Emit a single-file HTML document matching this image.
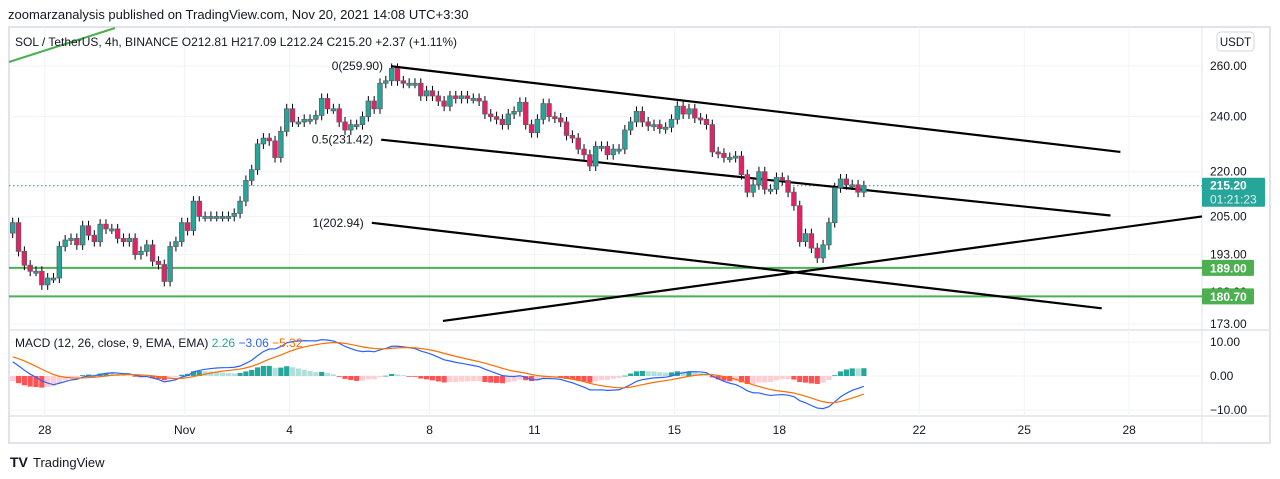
<!DOCTYPE html>
<html><head><meta charset="utf-8">
<style>
html,body{margin:0;padding:0;background:#fff;width:1280px;height:479px;overflow:hidden;font-family:"Liberation Sans",sans-serif;}
svg text{font-family:"Liberation Sans",sans-serif;}
</style></head>
<body>
<svg id="chart" width="1280" height="479" viewBox="0 0 1280 479" xmlns="http://www.w3.org/2000/svg">
  <text x="8" y="19" font-size="13" fill="#131722">zoomarzanalysis published on TradingView.com, Nov 20, 2021 14:08 UTC+3:30</text>
  <rect x="9" y="27" width="1261" height="416" fill="none" stroke="#e0e3eb" stroke-width="2"/>
  <line x1="1202" y1="27" x2="1202" y2="443" stroke="#e0e3eb"/>
  <line x1="9" y1="330" x2="1270" y2="330" stroke="#e0e3eb" stroke-width="1.5"/>
  <line x1="9" y1="416" x2="1270" y2="416" stroke="#e0e3eb" stroke-width="1.5"/>
  <g id="grid"></g>
  <g id="drawings"></g>
  <g id="candles"></g>
  <g id="macd"></g>
  <g id="axes"></g>
  <text x="15" y="46" font-size="12" fill="#131722">SOL / TetherUS, 4h, BINANCE  O212.81  H217.09  L212.24  C215.20  +2.37 (+1.11%)</text>
  <text x="15" y="347" font-size="12" fill="#131722">MACD (12, 26, close, 9, EMA, EMA) <tspan fill="#26a69a">2.26</tspan> <tspan fill="#2962ff">−3.06</tspan> <tspan fill="#ff6d00">−5.32</tspan></text>
  <rect x="1217" y="32" width="37" height="19" rx="4" fill="#fff" stroke="#d1d4dc"/>
  <text x="1235.5" y="46" font-size="11.5" fill="#131722" text-anchor="middle">USDT</text>
  <g>
    <text x="10" y="467" font-size="14" font-weight="bold" fill="#131722">TV</text>
    <text x="33" y="467" font-size="13" fill="#131722">TradingView</text>
  </g>
</svg>
<script>
// ---- data ----
const closes = [203,194,189.8,188,188,184,186,186,195.5,197.5,198,196,202,199,197,202.5,201,201,198,197,198,193,194,196,191,190,185,195.5,197,203,200.5,210,205,205,205,205,205,205,206,210,217,220.7,229.9,232,231,225,234.5,243,238,238,239,239,240.5,247,243,243,238,235,237,237,240,246,243,253,254,259,254,253,253,253,248,250,248,246,244,248,247,248,247,247,246,241,240,239,237,241,242,245.5,237,234,239,245,240,239.5,238,233,232,228,226,222,229,229,226,228,228,235,238,242,238,236.5,237,235.5,236,239,244,241,243,239.5,239,237,227,226.5,225,225,225.5,219,213,215.5,220,214,214,218,217,213,208.5,197,199.5,195,192,196,203,214.5,217.5,215.5,215.5,213,215.2];
const firstOpen = 199.7;
const dateLabels = ["28","Nov","4","8","11","15","18","22","25","28"];
const dateIndex = [5.5,29.5,47.5,71.5,89.5,113.5,131.5,155.5,173.5,191.5];
const priceTicks = [260,240,220,205,193,182,173];
const macdTicks = [10,0,-10];
// drawings: [candleIndex, price]
const channelTop = [[64.9,259.9],[190,227]];
const channelMid = [[63.2,231.42],[188.3,205.3]];
const channelBot = [[61.6,202.94],[186.8,177.3]];
const risingLine = [[73.8,173.8],[204,205]];
const levels = [189.0,180.7];
const lastPrice = 215.2;

// ---- axes ----
const X0=12.7, DX=5.83;
function xi(i){return X0+DX*i;}
function yp(p){return 66+633*Math.log(260/p);}
function ym(v){return 376-3.4*v;}
const NS="http://www.w3.org/2000/svg";
function mk(parent,tag,attrs){const e=document.createElementNS(NS,tag);for(const k in attrs)e.setAttribute(k,attrs[k]);document.getElementById(parent).appendChild(e);return e;}

dateIndex.forEach(i=>{
  const l=mk('grid','line',{x1:xi(i),x2:xi(i),y1:27,y2:416,stroke:'#f0f3fa'});
  
  
});
priceTicks.forEach(p=>{
  const l=mk('grid','line',{x1:9,x2:1202,y1:yp(p),y2:yp(p),stroke:'#f0f3fa'});
  
  
});
macdTicks.forEach(v=>{
  const l=mk('grid','line',{x1:9,x2:1202,y1:ym(v),y2:ym(v),stroke:'#f0f3fa'});
  
  
});

const dl=mk('drawings','line',{x1:9,x2:1202,y1:yp(lastPrice),y2:yp(lastPrice),stroke:'#26a69a','stroke-dasharray':'1.5 2.5','stroke-width':1.2});



levels.forEach(p=>{
  const l=mk('drawings','line',{x1:9,x2:1202,y1:yp(p),y2:yp(p),stroke:'#4caf50','stroke-width':2});
  
  
});
const gl=mk('drawings','line',{x1:9,y1:62,x2:115,y2:28,stroke:'#4caf50','stroke-width':2});



[channelTop,channelMid,channelBot,risingLine].forEach((ln,k)=>{
  const l=mk('drawings','line',{x1:xi(ln[0][0]),y1:yp(ln[0][1]),x2:xi(ln[1][0]),y2:yp(ln[1][1]),stroke:'#000','stroke-width':2.2});
  
  
});
[[channelTop,'0(259.90)'],[channelMid,'0.5(231.42)'],[channelBot,'1(202.94)']].forEach(([ln,t])=>{
  const tx=mk('drawings','text',{x:xi(ln[0][0])-8,y:yp(ln[0][1])+4,'font-size':12,fill:'#131722','text-anchor':'end'});
  tx.textContent=t;
  
  
});

let prev=firstOpen;
closes.forEach((c,i)=>{
  const o=prev; prev=c;
  const up=c>=o;
  const hi=Math.max(o,c), lo=Math.min(o,c);
  const x=xi(i);
  const w=mk('candles','line',{x1:x,x2:x,y1:yp(hi)-5,y2:yp(lo)+5,stroke:'#000','stroke-width':1});
  
  
  const yt=yp(hi), h=Math.max(2,yp(lo)-yt);
  const r=mk('candles','rect',{x:x-2.3,y:yt,width:4.6,height:h,fill:up?'#26a69a':'#e91e63',stroke:'#5d606b','stroke-width':0.8});
  
  
});

let e12=closes[0]+2.2, e26=closes[0]-2.5, sig=6;
const macdV=[],sigV=[],histV=[];
closes.forEach(c=>{
  e12=e12+(c-e12)*2/13; e26=e26+(c-e26)*2/27;
  const m=e12-e26; sig=sig+(m-sig)*2/10;
  macdV.push(m); sigV.push(sig); histV.push(m-sig);
});
histV.forEach((h,i)=>{
  const p=i>0?histV[i-1]:h;
  let col = h>=0 ? (h>=p?'#26a69a':'#b2dfdb') : (h<p?'#ff5252':'#ffcdd2');
  const y0=ym(0), y1=ym(h);
  const r=mk('macd','rect',{x:xi(i)-2.6,y:Math.min(y0,y1),width:5.2,height:Math.max(0.8,Math.abs(y1-y0)),fill:col});
  
  
});
const pm=mk('macd','polyline',{points:macdV.map((v,i)=>xi(i)+','+ym(v)).join(' '),fill:'none',stroke:'#2962ff','stroke-width':1.2});


const ps=mk('macd','polyline',{points:sigV.map((v,i)=>xi(i)+','+ym(v)).join(' '),fill:'none',stroke:'#ff6d00','stroke-width':1.2});



priceTicks.forEach(p=>{
  const t=mk('axes','text',{x:1210,y:yp(p)+4,'font-size':12,fill:'#131722'});
  t.textContent=p.toFixed(2);
  
  
});
macdTicks.forEach(v=>{
  const t=mk('axes','text',{x:1210,y:ym(v)+4,'font-size':12,fill:'#131722'});
  t.textContent=(v<0?'−':'')+Math.abs(v).toFixed(2);
  
  
});
dateLabels.forEach((d,k)=>{
  const t=mk('axes','text',{x:xi(dateIndex[k]),y:434,'font-size':12,fill:'#131722','text-anchor':'middle'});
  t.textContent=d;
  
  
});
const lb=mk('axes','rect',{x:1202,y:yp(lastPrice)-8,width:63,height:29,fill:'#26a69a',rx:1});


const lt=mk('axes','text',{x:1210,y:yp(lastPrice)+4,'font-size':12,'font-weight':'bold',fill:'#fff'});
lt.textContent=lastPrice.toFixed(2);


const ct=mk('axes','text',{x:1210,y:yp(lastPrice)+18,'font-size':12,fill:'#e0f2f1'});
ct.textContent='01:21:23';


levels.forEach(p=>{
  const r=mk('axes','rect',{x:1202,y:yp(p)-8,width:52,height:16,fill:'#4caf50',rx:1});
  
  
  const t=mk('axes','text',{x:1210,y:yp(p)+4.5,'font-size':12,'font-weight':'bold',fill:'#fff'});
  t.textContent=p.toFixed(2);
  
  
});
</script>
</body></html>
